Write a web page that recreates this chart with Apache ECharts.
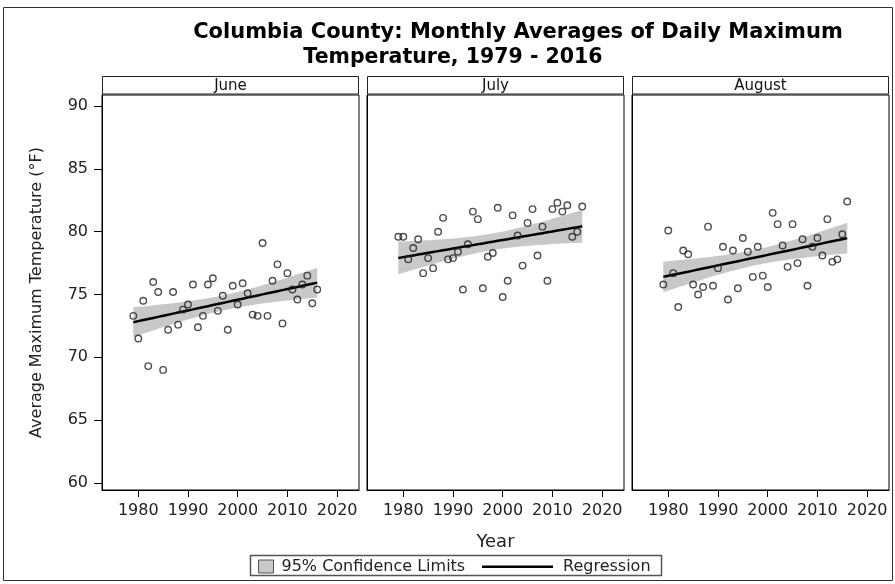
<!DOCTYPE html>
<html><head><meta charset="utf-8">
<script src="https://cdn.jsdelivr.net/npm/echarts@6/dist/echarts.min.js"></script>
<style>html,body{margin:0;padding:0;background:#fff}#c{width:895px;height:584px}</style>
</head><body><div id="c"></div>
<script>
const years = [1979,1980,1981,1982,1983,1984,1985,1986,1987,1988,1989,1990,1991,1992,1993,1994,1995,1996,1997,1998,
  1999,2000,2001,2002,2003,2004,2005,2006,2007,2008,2009,2010,2011,2012,2013,2014,2015,2016];
const panelNames = ['June','July','August'];
const juneTemps = [73.3,71.5,74.5,69.3,76.0,75.2,69.0,72.2,75.2,72.6,73.8,74.2,75.8,72.4,73.3,75.8,76.3,73.7,74.9,72.2,
  75.7,74.2,75.9,75.1,73.4,73.3,79.1,73.3,76.1,77.4,72.7,76.7,75.4,74.6,75.8,76.5,74.3,75.4];
const julyTemps = [79.6,79.6,77.8,78.7,79.4,76.7,77.9,77.1,80.0,81.1,77.8,77.9,78.4,75.4,79.0,81.6,81.0,75.5,78.0,78.3,
  81.9,74.8,76.1,81.3,79.7,77.3,80.7,81.8,78.1,80.4,76.1,81.8,82.3,81.6,82.1,79.6,80.0,82.0];
const augustTemps = [75.8,80.1,76.7,74.0,78.5,78.2,75.8,75.0,75.6,80.4,75.7,77.1,78.8,74.6,78.5,75.5,79.5,78.4,76.4,78.8,
  76.5,75.6,81.5,80.6,78.9,77.2,80.6,77.5,79.4,75.7,78.8,79.5,78.1,81.0,77.6,77.8,79.8,82.4];
const xTickLabels = [1980,1990,2000,2010,2020];
const yTickLabels = [60,65,70,75,80,85,90];
const titleLines = ['Columbia County: Monthly Averages of Daily Maximum','Temperature, 1979 - 2016'];
const legendNames = ['95% Confidence Limits','Regression'];

// Ordinary least squares fit with 95% confidence limits for the mean
function regression(xs, ys) {
  const n = xs.length;
  const mx = xs.reduce((a,b)=>a+b,0)/n, my = ys.reduce((a,b)=>a+b,0)/n;
  let sxx=0, sxy=0;
  for (let i=0;i<n;i++){ sxx+=(xs[i]-mx)**2; sxy+=(xs[i]-mx)*(ys[i]-my); }
  const b = sxy/sxx, a = my - b*mx;
  let sse=0; for (let i=0;i<n;i++){ sse+=(ys[i]-(a+b*xs[i]))**2; }
  const s = Math.sqrt(sse/(n-2)), t = 2.028;
  const line=[], band=[];
  for (const x of xs) {
    const yh = a+b*x, h = t*s*Math.sqrt(1/n+(x-mx)**2/sxx);
    line.push([x,yh]); band.push([x,yh-h,yh+h]);
  }
  return {line, band};
}

const FONT = 'DejaVu Sans';
const temps = [juneTemps, julyTemps, augustTemps];
const lefts = [102, 367, 632];
const W = 257, TOP = 95, BOTTOM_Y = 490;

const grid = [], xAxis = [], yAxis = [], series = [], graphics = [];
graphics.push({type:'rect', shape:{x:3.5,y:7.5,width:889,height:573}, style:{fill:null, stroke:'#333', lineWidth:1}, z:-1});
graphics.push({type:'text', x:518, y:33, style:{text:titleLines[0], font:'bold 21px '+FONT, fill:'#000', textAlign:'center', textVerticalAlign:'middle'}});
graphics.push({type:'text', x:453, y:58, style:{text:titleLines[1], font:'bold 20.5px '+FONT, fill:'#000', textAlign:'center', textVerticalAlign:'middle'}});
graphics.push({type:'rect', shape:{x:250.5,y:555.5,width:411,height:20}, style:{fill:null, stroke:'#555', lineWidth:1.5}});

function bandRenderer(band) {
  return function(params, api) {
    if (params.dataIndex !== 0) return null;
    const pts = [];
    for (const r of band) pts.push(api.coord([r[0], r[2]]));
    for (let k = band.length-1; k >= 0; k--) pts.push(api.coord([band[k][0], band[k][1]]));
    return {type:'polygon', shape:{points:pts}, style:{fill:'#c8c8c8', stroke:null}};
  };
}

for (let i=0;i<3;i++){
  grid.push({left:lefts[i], top:TOP, width:W, height:BOTTOM_Y-TOP, show:true, borderColor:'#000', borderWidth:1, backgroundColor:'#fff'});
  graphics.push({type:'rect', shape:{x:lefts[i]+0.5, y:76.5, width:W-1, height:17.5}, style:{fill:'#fff', stroke:'#222', lineWidth:1}});
  graphics.push({type:'text', x:lefts[i]+W/2, y:86, style:{text:panelNames[i], font:'15px '+FONT, fill:'#111', textAlign:'center', textVerticalAlign:'middle'}});
  xAxis.push({type:'value', gridIndex:i, min:1972.7, max:2024.4,
    axisLine:{show:true, onZero:false, lineStyle:{color:'#000', width:1}},
    axisTick:{show:true, length:7, customValues:xTickLabels, lineStyle:{color:'#000'}},
    axisLabel:{show:true, customValues:xTickLabels, formatter:v=>String(v), margin:13, color:'#222', fontFamily:FONT, fontSize:16},
    splitLine:{show:false},
    name: i===1 ? 'Year' : '', nameLocation:'middle', nameGap:43,
    nameTextStyle:{fontFamily:FONT, fontSize:18, color:'#222'}});
  yAxis.push({type:'value', gridIndex:i, min:59.44, max:90.88,
    axisLine:{show:true, onZero:false, lineStyle:{color:'#000', width:1}},
    axisTick:{show:i===0, length:8, customValues:yTickLabels, lineStyle:{color:'#000'}},
    axisLabel:{show:i===0, customValues:yTickLabels, formatter:v=>String(v), margin:14, color:'#222', fontFamily:FONT, fontSize:16},
    splitLine:{show:false},
    name: i===0 ? 'Average Maximum Temperature (°F)' : '', nameLocation:'middle', nameGap:57, nameRotate:90,
    nameTextStyle:{fontFamily:FONT, fontSize:16, color:'#222'}});
  const fit = regression(years, temps[i]);
  series.push({type:'custom', name:legendNames[0], xAxisIndex:i, yAxisIndex:i, data:fit.band,
    encode:{x:0, y:[1,2]}, renderItem:bandRenderer(fit.band), silent:true,
    itemStyle:{color:'#c8c8c8'}, z:1});
  series.push({type:'line', name:legendNames[1], xAxisIndex:i, yAxisIndex:i, data:fit.line, symbol:'none', silent:true,
    lineStyle:{color:'#000', width:2.5}, itemStyle:{color:'#000'}, z:2});
  series.push({type:'scatter', name:panelNames[i], xAxisIndex:i, yAxisIndex:i,
    data: years.map((y,k)=>[y, temps[i][k]]), symbol:'circle', symbolSize:6.5,
    itemStyle:{color:'rgba(255,255,255,0)', borderColor:'#222', borderWidth:1.4}, z:3});
}

const chart = echarts.init(document.getElementById('c'), null, {renderer:'canvas'});
chart.setOption({
  animation:false,
  backgroundColor:'#fff',
  grid, xAxis, yAxis, series,
  legend:[
    {data:[{name:legendNames[0], icon:'rect'}], left:258, top:558.5, padding:0, itemWidth:15, itemHeight:13,
      itemStyle:{color:'#c8c8c8', borderColor:'#555', borderWidth:1}, selectedMode:false,
      textStyle:{fontFamily:FONT, fontSize:16, color:'#222', padding:[0,0,0,3]}},
    {data:[{name:legendNames[1], icon:'rect'}], left:482, top:558.8, padding:0, itemWidth:71, itemHeight:2.5,
      itemStyle:{borderWidth:0}, selectedMode:false,
      textStyle:{fontFamily:FONT, fontSize:16, color:'#222', padding:[0,0,0,5]}}
  ],
  graphic: graphics
});
</script></body></html>
